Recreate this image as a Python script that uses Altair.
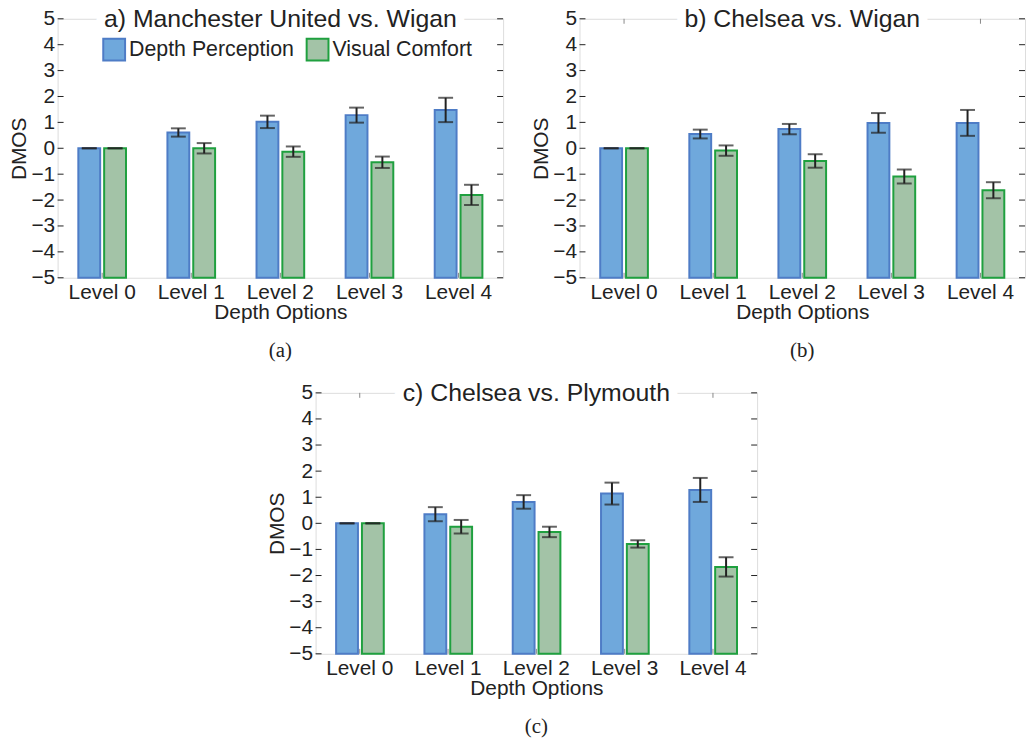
import altair as alt
import pandas as pd

levels = ["Level 0", "Level 1", "Level 2", "Level 3", "Level 4"]
series = ["Depth Perception", "Visual Comfort"]
yticks = [-5, -4, -3, -2, -1, 0, 1, 2, 3, 4, 5]

titles = ["a) Manchester United vs. Wigan", "b) Chelsea vs. Wigan", "c) Chelsea vs. Plymouth"]
subcaps = ["(a)", "(b)", "(c)"]

a_dp = [0, 0.61, 1.02, 1.28, 1.48]
a_dp_err = [0, 0.16, 0.24, 0.29, 0.47]
a_vc = [0, 0.00, -0.13, -0.54, -1.80]
a_vc_err = [0, 0.20, 0.20, 0.22, 0.39]

b_dp = [0, 0.55, 0.74, 0.98, 0.98]
b_dp_err = [0, 0.17, 0.20, 0.38, 0.50]
b_vc = [0, -0.09, -0.49, -1.09, -1.62]
b_vc_err = [0, 0.20, 0.26, 0.27, 0.31]

c_dp = [0, 0.35, 0.82, 1.14, 1.28]
c_dp_err = [0, 0.27, 0.26, 0.42, 0.46]
c_vc = [0, -0.13, -0.33, -0.79, -1.67]
c_vc_err = [0, 0.26, 0.20, 0.14, 0.37]

FILL = ["#6FA8DC", "#A3C3A7"]
STROKE = ["#4E7CC6", "#1FA03F"]
FONT = "Liberation Sans"
INK = "#222222"
FS = 21


def panel(title, sub, dp, dp_err, vc, vc_err, W, H):
    rows = []
    for i, lv in enumerate(levels):
        rows.append(dict(level=lv, series=series[0], value=dp[i],
                         lo=dp[i] - dp_err[i], hi=dp[i] + dp_err[i]))
        rows.append(dict(level=lv, series=series[1], value=vc[i],
                         lo=vc[i] - vc_err[i], hi=vc[i] + vc_err[i]))
    df = pd.DataFrame(rows)

    yscale = alt.Scale(domain=[-5, 5], nice=False, zero=False)
    xenc = alt.X("level:N", sort=levels,
                 scale=alt.Scale(type="band", paddingInner=0.465, paddingOuter=0.2325),
                 axis=alt.Axis(title="Depth Options", labelAngle=0, ticks=False,
                               domain=False, labelPadding=4, titlePadding=-1,
                               labelFontSize=FS, titleFontSize=FS,
                               titleFontWeight="normal", labelColor=INK,
                               titleColor=INK, labelFont=FONT, titleFont=FONT,
                               labelOverlap=False))
    xoff = alt.XOffset("series:N", sort=series,
                       scale=alt.Scale(paddingInner=0.154, paddingOuter=0))
    leg = alt.Legend(orient="none", legendX=45, legendY=19, direction="horizontal",
                     title=None, symbolType="square", symbolSize=484,
                     symbolStrokeWidth=2, labelFontSize=21.5, labelFont=FONT,
                     labelColor=INK, columnPadding=8, labelOffset=3, padding=0,
                     symbolOpacity=1, labelLimit=400)

    yaxis = alt.Axis(values=yticks, title="DMOS", tickSize=0, domain=False,
                     grid=False, labelPadding=3, titlePadding=1,
                     labelFontSize=FS, titleFontSize=FS,
                     titleFontWeight="normal", labelColor=INK,
                     titleColor=INK, labelFont=FONT, titleFont=FONT,
                     labelOverlap=False, labelBound=False)

    bars = alt.Chart(df).mark_bar(strokeWidth=2).encode(
        x=xenc,
        xOffset=xoff,
        y=alt.Y("value:Q", scale=yscale, axis=yaxis),
        y2=alt.datum(-5),
        fill=alt.Fill("series:N", scale=alt.Scale(domain=series, range=FILL), legend=leg),
        stroke=alt.Stroke("series:N", scale=alt.Scale(domain=series, range=STROKE), legend=leg),
    )

    err = alt.Chart(df).mark_rule(strokeWidth=2, color=INK).encode(
        x="level:N", xOffset=xoff, y=alt.Y("lo:Q", axis=yaxis), y2="hi:Q")
    cap_lo = alt.Chart(df).mark_tick(size=15, thickness=2, color=INK).encode(
        x="level:N", xOffset=xoff, y=alt.Y("lo:Q", axis=yaxis))
    cap_hi = alt.Chart(df).mark_tick(size=15, thickness=2, color=INK).encode(
        x="level:N", xOffset=xoff, y=alt.Y("hi:Q", axis=yaxis))

    tdf = pd.DataFrame({"t": yticks})
    tick_l = alt.Chart(tdf).mark_rule(color=INK, strokeWidth=1).encode(
        y=alt.Y("t:Q", axis=yaxis), x=alt.value(0), x2=alt.value(6))
    tick_r = alt.Chart(tdf).mark_rule(color=INK, strokeWidth=1).encode(
        y=alt.Y("t:Q", axis=yaxis), x=alt.value(W - 6), x2=alt.value(W))
    ldf = pd.DataFrame({"level": levels})
    tick_b = alt.Chart(ldf).mark_rule(color="#888888", strokeWidth=1).encode(
        x="level:N", y=alt.value(H), y2=alt.value(H - 5))
    tick_t = alt.Chart(ldf).mark_rule(color="#888888", strokeWidth=1).encode(
        x="level:N", y=alt.value(0), y2=alt.value(5))

    ttl = pd.DataFrame({"title": [title]})
    t_bg = alt.Chart(ttl).mark_text(fontSize=25, font=FONT, baseline="middle",
                                    align="center", stroke="white", strokeWidth=18,
                                    strokeJoin="round", fill="white").encode(
        text="title:N", x=alt.value(W / 2), y=alt.value(0))
    t_fg = alt.Chart(ttl).mark_text(fontSize=25, font=FONT, baseline="middle",
                                    align="center", color=INK).encode(
        text="title:N", x=alt.value(W / 2), y=alt.value(0))

    return alt.layer(bars, err, cap_lo, cap_hi, tick_t, tick_b, tick_l, tick_r,
                     t_bg, t_fg).properties(
        width=W, height=H,
        title=alt.TitleParams(sub, orient="bottom", font="Liberation Serif",
                              fontSize=21, fontWeight="normal", color=INK,
                              offset=18, anchor="middle"))


pa = panel(titles[0], subcaps[0], a_dp, a_dp_err, a_vc, a_vc_err, 449, 261)
pb = panel(titles[1], subcaps[1], b_dp, b_dp_err, b_vc, b_vc_err, 449, 261)
pc = panel(titles[2], subcaps[2], c_dp, c_dp_err, c_vc, c_vc_err, 445, 263)

SPACER_W = 210
spacer = alt.Chart(pd.DataFrame({"s": [0]})).mark_point(opacity=0, size=1).encode(
    x=alt.value(SPACER_W / 2), y=alt.value(0)
).properties(width=SPACER_W, height=1, view=alt.ViewBackground(strokeOpacity=0))

top = alt.hconcat(pa, pb, spacing=26)
bottom = alt.hconcat(spacer, pc, spacing=0)
chart = alt.vconcat(top, bottom, spacing=18).properties(
    padding={"left": 0, "top": -5, "right": 0, "bottom": 0}
).configure_view(stroke=INK, strokeWidth=1).configure_axis(
    labelOverlap=False
).configure(font=FONT, background="white")

chart.save("out.html", embed_options={"renderer": "svg", "actions": False})
